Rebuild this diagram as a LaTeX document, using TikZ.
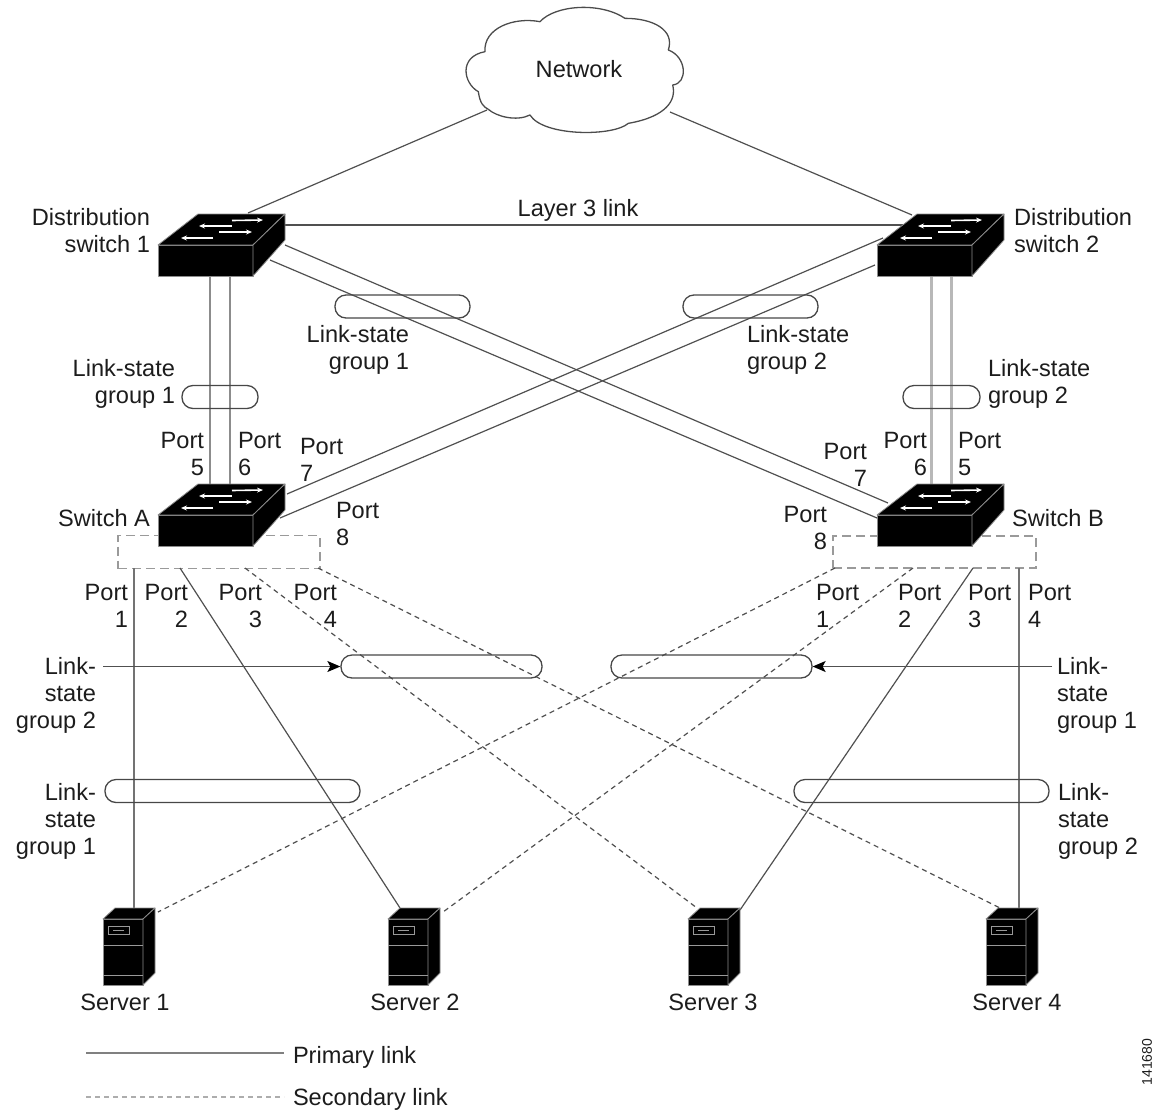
\documentclass[tikz,border=0pt]{standalone}
\usepackage{fontspec}
\setmainfont{Liberation Sans}
\usetikzlibrary{arrows.meta}
\pgfdeclarelayer{back}
\pgfsetlayers{back,main}
\definecolor{ink}{HTML}{1C1C1C}
\definecolor{linkc}{HTML}{505050}
\definecolor{edgec}{HTML}{9A9A9A}
\tikzset{
  lab/.style={font=\fontsize{23.6}{27}\selectfont, text=ink, inner sep=0pt, outer sep=0pt},
  labl/.style={lab, anchor=west, align=left},
  labr/.style={lab, anchor=east, align=right},
  labc/.style={lab, anchor=center, align=center},
  primary/.style={draw=linkc, line width=1.2pt},
  primarylight/.style={draw=black!55, line width=1.4pt},
  secondary/.style={draw=linkc, line width=1.2pt, dash pattern=on 5pt off 4pt},
  trunkl/.style={draw=black!45, line width=2pt},
  trunkr/.style={draw=black!28, line width=3pt},
  capsule/.style={draw=black!72, line width=1.3pt, rounded corners=11pt, minimum height=23pt, inner sep=0pt, anchor=center},
  portbox/.style={draw=edgec, line width=1.4pt, dash pattern=on 9pt off 5pt, inner sep=0pt, anchor=center},
  iconbody/.style={fill=black, draw=black!45, line width=.8pt, line join=round},
  swfront/.style={iconbody, minimum width=95pt, minimum height=31pt, inner sep=0pt, outer sep=0pt},
  srvfront/.style={iconbody, minimum width=40pt, minimum height=66pt, inner sep=0pt, outer sep=0pt},
  swarrow/.style={draw=white, line width=1.6pt, -{Stealth[length=6pt,width=5pt]}},
  srvline/.style={draw=black!40, line width=1pt},
  callout/.style={draw=linkc, line width=1.2pt, -{Stealth[length=13pt,width=11pt,inset=3pt,color=black]}},
}
\newcommand\switchicon[3]{%
  \node[swfront] (#1) at (#2+47.5,#3+15.5) {};
  \begin{scope}[shift={(#2,#3)}]
    \path[iconbody] (0,0)--(40,-31)--(127,-31)--(95,0)--cycle;
    \path[iconbody] (95,0)--(127,-31)--(127,-5)--(95,31)--cycle;
    \draw[swarrow] (74,-24.5)--(105,-25);
    \draw[swarrow] (74,-19)--(41,-19);
    \draw[swarrow] (61,-13)--(94,-13);
    \draw[swarrow] (55,-7)--(23,-7);
  \end{scope}}
\newcommand\servericon[3]{%
  \node[srvfront] (#1) at (#2+20,#3+33) {};
  \begin{scope}[shift={(#2,#3)}]
    \path[iconbody] (0,0)--(12,-11)--(52,-11)--(40,0)--cycle;
    \path[iconbody] (40,0)--(52,-11)--(52,54)--(40,66)--cycle;
    \draw[srvline] (5,7) rectangle (26,15);
    \draw[srvline] (10,11)--(21,11);
    \draw[srvline] (0,26.7)--(40,26.7);
    \draw[srvline] (0,56.7)--(40,56.7);
  \end{scope}}
\begin{document}
\begin{tikzpicture}[x=1pt,y=-1pt]
\useasboundingbox (0,0) rectangle (1157,1112);

% --- devices
\node[labc] (net) at (579,69) {Network};
\begin{scope}[x=.33333pt,y=-.33333pt,shift={(1320,0)}]
  \draw[draw=black!70,line width=1.3pt,line join=round]
    (145,328) .. controls (130,320) and (120,310) .. (115,275)
    .. controls (70,250) and (55,170) .. (135,155)
    .. controls (130,85) and (220,50) .. (300,65)
    .. controls (345,15) and (480,5) .. (555,55)
    .. controls (640,55) and (705,90) .. (685,150)
    .. controls (740,170) and (745,250) .. (698,255)
    .. controls (710,300) and (680,350) .. (565,370)
    .. controls (520,410) and (310,410) .. (270,345)
    .. controls (230,365) and (170,350) .. (145,328) -- cycle;
\end{scope}

\switchicon{ds1}{158}{245}
\switchicon{ds2}{877}{245}
\switchicon{swa}{158}{515}
\switchicon{swb}{877}{515}
\servericon{srv1}{103}{919}
\servericon{srv2}{388}{919}
\servericon{srv3}{688}{919}
\servericon{srv4}{986}{919}

% --- connector ends
\coordinate (netL) at (487,110);
\coordinate (netR) at (670,112);
\coordinate (ds1top) at (248,213);
\coordinate (ds2top) at (912,215);
\coordinate (ds1e) at (285,225);
\coordinate (ds2w) at (905,225);
\coordinate (ds1x1) at (285,245);
\coordinate (ds1x2) at (270,260);
\coordinate (swbx1) at (888,503);
\coordinate (swbx2) at (877,518);
\coordinate (ds2x1) at (883,238);
\coordinate (ds2x2) at (875,265);
\coordinate (swax1) at (287,494);
\coordinate (swax2) at (280,518);
\coordinate (ds1v5) at (210,276);
\coordinate (swav5) at (210,486);
\coordinate (ds1v6) at (230,276);
\coordinate (swav6) at (230,486);
\coordinate (ds2v6) at (931,276);
\coordinate (swbv6) at (931,486);
\coordinate (ds2v5) at (951,276);
\coordinate (swbv5) at (951,486);
\coordinate (a1) at (134,568);
\coordinate (a2) at (180,568);
\coordinate (a3) at (245,568);
\coordinate (a4) at (318,568);
\coordinate (b1) at (835,568);
\coordinate (b2) at (913,568);
\coordinate (b3) at (973,568);
\coordinate (b4) at (1019,568);
\coordinate (s1top) at (134,909);
\coordinate (s1dash) at (158,912);
\coordinate (s2top) at (400,908);
\coordinate (s2dash) at (443,912);
\coordinate (s3dash) at (697,908);
\coordinate (s3top) at (740,910);
\coordinate (s4dash) at (1000,908);
\coordinate (s4top) at (1019,909);

% --- group capsules
\node[capsule, minimum width=76pt] (lgv1) at (220,397) {};
\node[capsule, minimum width=77pt] (lgv2) at (941.5,397) {};
\node[capsule, minimum width=135pt] (lgx1) at (402.5,306.5) {};
\node[capsule, minimum width=135pt] (lgx2) at (750.5,306.5) {};
\node[capsule, minimum width=201pt] (lgu1) at (441.5,666.5) {};
\node[capsule, minimum width=201pt] (lgu2) at (711.5,666.5) {};
\node[capsule, minimum width=255pt] (lgd1) at (232.5,791) {};
\node[capsule, minimum width=255pt] (lgd2) at (921.5,791) {};

\coordinate (callL) at (103,666.5);
\coordinate (callR) at (1052,666.5);

\begin{pgfonlayer}{back}
  \node[portbox, minimum width=202pt, minimum height=33pt] (pba) at (219,552) {};
  \node[portbox, minimum width=203pt, minimum height=32pt] (pbb) at (934.5,552) {};
  \draw[primary] (netL)--(ds1top);
  \draw[primary] (netR)--(ds2top);
  \draw[primary] (ds1e)--(ds2w);
  \draw[primary] (ds1x1)--(swbx1);
  \draw[primary] (ds1x2)--(swbx2);
  \draw[primary] (ds2x1)--(swax1);
  \draw[primary] (ds2x2)--(swax2);
  \draw[trunkl] (ds1v5)--(swav5);
  \draw[trunkl] (ds1v6)--(swav6);
  \draw[trunkr] (ds2v6)--(swbv6);
  \draw[trunkr] (ds2v5)--(swbv5);
  \draw[primarylight] (a1)--(s1top);
  \draw[primary] (a2)--(s2top);
  \draw[secondary] (a3)--(s3dash);
  \draw[secondary] (a4)--(s4dash);
  \draw[secondary] (b1)--(s1dash);
  \draw[secondary] (b2)--(s2dash);
  \draw[primary] (b3)--(s3top);
  \draw[primarylight] (b4)--(s4top);
\end{pgfonlayer}
\draw[callout] (callL)--(lgu1.west);
\draw[callout] (callR)--(lgu2.east);

% --- labels
\node[labr] (tds1) at (150,234) {Distribution\strut\\switch 1\strut};
\node[labl] (tds2) at (1014,234) {Distribution\strut\\switch 2\strut};
\node[labc] (tl3) at (578,210) {Layer 3 link};
\node[labr] (tlx1) at (409,351) {Link-state\strut\\group 1\strut};
\node[labl] (tlx2) at (747,351) {Link-state\strut\\group 2\strut};
\node[labr] (tlv1) at (175,384.5) {Link-state\strut\\group 1\strut};
\node[labl] (tlv2) at (988,384.5) {Link-state\strut\\group 2\strut};
\node[labr] (tpa5) at (204,456.5) {Port\strut\\5\strut};
\node[labl] (tpa6) at (238,456.5) {Port\strut\\6\strut};
\node[labl] (tpa7) at (300,462.5) {Port\strut\\7\strut};
\node[labl] (tpa8) at (336,526.5) {Port\strut\\8\strut};
\node[labr] (tpb7) at (867,468) {Port\strut\\7\strut};
\node[labr] (tpb6) at (927,456.5) {Port\strut\\6\strut};
\node[labl] (tpb5) at (958,456.5) {Port\strut\\5\strut};
\node[labr] (tpb8) at (827,530.5) {Port\strut\\8\strut};
\node[labr] (tswa) at (150,521) {Switch A\strut};
\node[labl] (tswb) at (1012,521) {Switch B\strut};
\node[labr] (tq1) at (128,608.5) {Port\strut\\1\strut};
\node[labr] (tq2) at (188,608.5) {Port\strut\\2\strut};
\node[labr] (tq3) at (262,608.5) {Port\strut\\3\strut};
\node[labr] (tq4) at (337,608.5) {Port\strut\\4\strut};
\node[labl] (tr1) at (816,608.5) {Port\strut\\1\strut};
\node[labl] (tr2) at (898,608.5) {Port\strut\\2\strut};
\node[labl] (tr3) at (968,608.5) {Port\strut\\3\strut};
\node[labl] (tr4) at (1028,608.5) {Port\strut\\4\strut};
\node[labr] (tgl2) at (96,696) {Link-\strut\\state\strut\\group 2\strut};
\node[labr] (tgl1) at (96,822) {Link-\strut\\state\strut\\group 1\strut};
\node[labl] (tgr1) at (1057,696) {Link-\strut\\state\strut\\group 1\strut};
\node[labl] (tgr2) at (1058,822) {Link-\strut\\state\strut\\group 2\strut};
\node[labc] (ts1) at (125,1005) {Server 1\strut};
\node[labc] (ts2) at (415,1005) {Server 2\strut};
\node[labc] (ts3) at (713,1005) {Server 3\strut};
\node[labc] (ts4) at (1017,1005) {Server 4\strut};

% --- legend
\coordinate (lg1a) at (86,1053);
\coordinate (lg1b) at (284,1053);
\coordinate (lg2a) at (86,1097);
\coordinate (lg2b) at (284,1097);
\draw[draw=black!50, line width=1.6pt] (lg1a)--(lg1b);
\draw[draw=black!32, line width=2pt, dash pattern=on 5pt off 4pt] (lg2a)--(lg2b);
\node[labl] (tlg1) at (293,1058) {Primary link\strut};
\node[labl] (tlg2) at (293,1100) {Secondary link\strut};
\node[lab, rotate=90, font=\fontsize{14}{16}\selectfont, anchor=center] (tid) at (1147,1062) {141680};
\end{tikzpicture}
\end{document}
